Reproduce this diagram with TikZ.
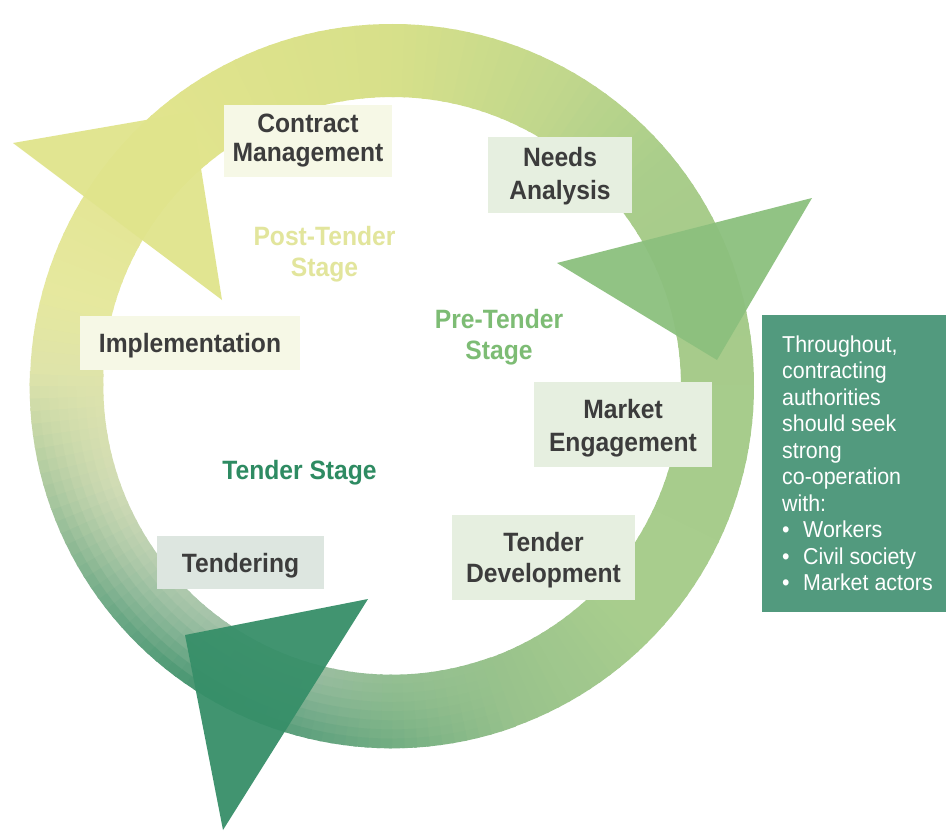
\documentclass[tikz,border=0pt]{standalone}
\usepackage{fontspec}
\setmainfont{Liberation Sans}[FakeStretch=0.93]
\definecolor{txt}{HTML}{3C3C3C}
\definecolor{boxY}{HTML}{F6F8E6}
\definecolor{boxG}{HTML}{E6EFE0}
\definecolor{boxT}{HTML}{DDE6E0}
\definecolor{triY}{HTML}{E0E48C}
\definecolor{triG}{HTML}{8CC07E}
\definecolor{triD}{HTML}{378F69}
\definecolor{shade}{HTML}{2F8A62}
\definecolor{stPost}{HTML}{E2E59C}
\definecolor{stPre}{HTML}{7DBC74}
\definecolor{stTen}{HTML}{2E8B62}
\definecolor{rboxc}{HTML}{529A7E}
\definecolor{r01}{HTML}{9CBEA5}
\definecolor{r02}{HTML}{B5CCB0}
\definecolor{r03}{HTML}{D2DCB5}
\definecolor{r04}{HTML}{DDE3AC}
\definecolor{r05}{HTML}{E6E89E}
\definecolor{r06}{HTML}{E1E48D}
\definecolor{r07}{HTML}{D7E08A}
\definecolor{r08}{HTML}{C0D78C}
\definecolor{r09}{HTML}{AACD8B}
\definecolor{r10}{HTML}{A6CB8B}
\definecolor{r11}{HTML}{A8CD8D}
\definecolor{r12}{HTML}{98C28C}
\definecolor{r13}{HTML}{94BF92}
\definecolor{r14}{HTML}{9CBEA2}
\tikzset{
  lbox/.style={rectangle, inner sep=0pt, draw=none},
  ltext/.style={text=txt, font=\fontsize{26.5}{30}\selectfont\bfseries, align=center, inner sep=0pt},
  stagetext/.style={font=\fontsize{26.5}{31}\selectfont\bfseries, align=center, inner sep=0pt},
  tri/.style={opacity=0.95}
}
\begin{document}
\begin{tikzpicture}[x=1pt,y=-1pt]
\useasboundingbox (0,0) rectangle (947,832);
\fill[white] (0,0) rectangle (947,832);
\coordinate (C) at (392,386);
% ring with conic gradient, darker towards the outer edge near the bottom-left
\foreach \aA/\aB/\cA/\cB in {117/140/r01/r02,140/160/r02/r03,160/180/r03/r04,180/195/r04/r05,195/230/r05/r06,230/270/r06/r07,270/300/r07/r08,300/320/r08/r09,320/340/r09/r10,340/405/r10/r11,405/430/r11/r12,430/450/r12/r13,450/465/r13/r14,465/477/r14/r01}{
  \pgfmathtruncatemacro\nseg{ceil((\aB-\aA)/2)}
  \foreach \i in {1,...,\nseg}{
    \pgfmathsetmacro\st{\aA+(\i-1)*(\aB-\aA)/\nseg}
    \pgfmathsetmacro\en{\aA+\i*(\aB-\aA)/\nseg+0.5}
    \pgfmathsetmacro\pc{100*(\i-0.5)/\nseg}
    \colorlet{segc}{\cB!\pc!\cA}
    \pgfmathsetmacro\am{mod(\aA+(\i-0.5)*(\aB-\aA)/\nseg,360)}
    \pgfmathsetmacro\fa{((\am>=70) && (\am<=182)) ? ((\am<120) ? ((\am-70)/50) : ((182-\am)/62)) : 0}
    \ifdim\fa pt>0.001pt
      \foreach \k in {1,...,8}{
        \pgfmathsetmacro\rr{289+9.125*(\k-0.5)}
        \pgfmathsetmacro\mixp{88*\fa*((\k-0.5)/8)^1.3}
        \colorlet{layc}{shade!\mixp!segc}
        \draw[layc, line width=9.8] (C) ++(\st:\rr) arc[start angle=\st, end angle=\en, radius=\rr];
      }
    \else
      \draw[segc, line width=73] (C) ++(\st:325.5) arc[start angle=\st, end angle=\en, radius=325.5];
    \fi
  }
}
% arrowheads
\fill[triY, tri] (13,143) -- (192,112) -- (222,300) -- cycle;
\fill[triG, tri] (557,263) -- (812,198) -- (717,360) -- cycle;
\fill[triD, tri] (185,635) -- (368,599) -- (223,830) -- cycle;
% boxes
\node[lbox, fill=boxY, minimum width=168, minimum height=72] (cm) at (308,141) {};
\node[ltext] (cmt) at (308,140.5) {Contract\\[-1pt]Management};
\node[lbox, fill=boxG, minimum width=144, minimum height=76] (na) at (560,175) {};
\node[ltext] (nat) at (560,176.5) {Needs\\[3pt]Analysis};
\node[lbox, fill=boxY, minimum width=220, minimum height=54] (im) at (190,343) {};
\node[ltext] (imt) at (190,346) {Implementation};
\node[lbox, fill=boxG, minimum width=178, minimum height=85] (me) at (623,424.5) {};
\node[ltext] (met) at (623,428) {Market\\[3pt]Engagement};
\node[lbox, fill=boxG, minimum width=183, minimum height=85] (td) at (543.5,557.5) {};
\node[ltext] (tdt) at (543.5,560.5) {Tender\\[1pt]Development};
\node[lbox, fill=boxT, minimum width=167, minimum height=53] (tg) at (240.5,562.5) {};
\node[ltext] (tgt) at (240.5,566) {Tendering};
% stage labels
\node[stagetext, text=stPost] (post) at (324.5,254) {Post-Tender\\Stage};
\node[stagetext, text=stPre] (pre) at (499,337) {Pre-Tender\\Stage};
\node[stagetext, text=stTen] (ten) at (299.5,473) {Tender Stage};
% right box
\node[lbox, fill=rboxc, minimum width=184, minimum height=297] (rbox) at (854,463.5) {};
\node[anchor=west, align=left, inner sep=0pt, text=white, font=\fontsize{23}{26.5}\selectfont] (rtext) at (782,463.5)
  {Throughout,\\contracting\\authorities\\should seek\\strong\\co-operation\\with:\\
   \makebox[21pt][l]{\textbullet}Workers\\
   \makebox[21pt][l]{\textbullet}Civil society\\
   \makebox[21pt][l]{\textbullet}Market actors};
\end{tikzpicture}
\end{document}
